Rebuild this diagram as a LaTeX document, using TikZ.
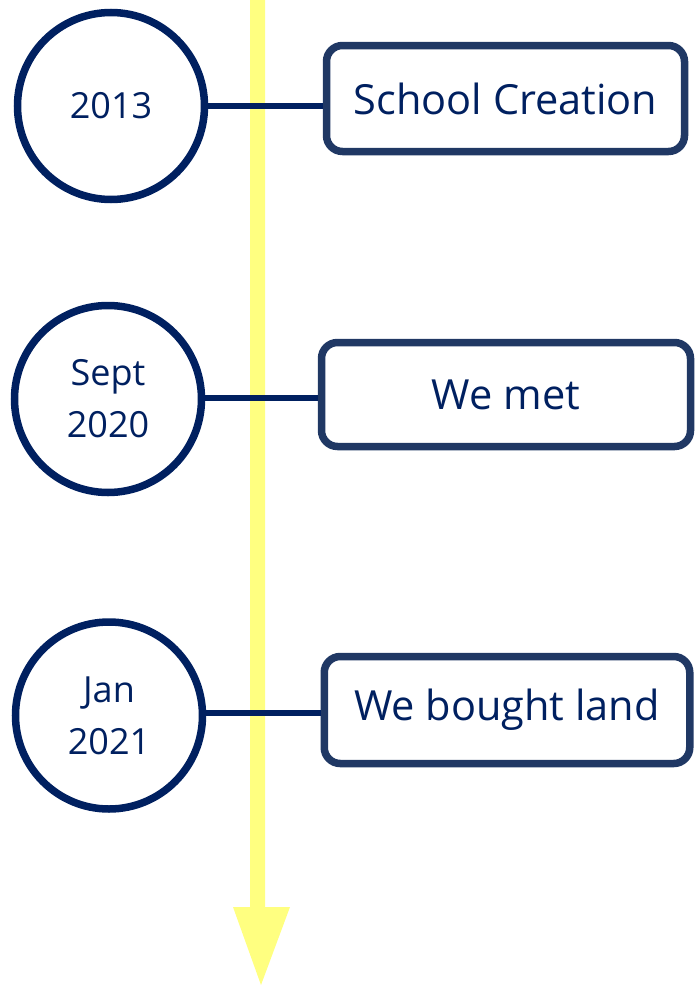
\documentclass[tikz,border=0pt]{standalone}
\usepackage{fontspec}
\setmainfont{Open Sans}
\definecolor{navy}{HTML}{002060}
\definecolor{boxnavy}{HTML}{203864}
\definecolor{lightyellow}{RGB}{255,255,128}
\begin{document}
\begin{tikzpicture}[x=1pt,y=-1pt,
  yearnode/.style={circle,draw=navy,line width=7.5pt,fill=white,minimum size=187pt,inner sep=0pt,
    text=navy,font=\fontsize{36}{52}\selectfont,align=center},
  eventbox/.style={rectangle,rounded corners=16pt,draw=boxnavy,line width=7.5pt,fill=white,
    inner sep=0pt,text=navy,font=\fontsize{41.5}{50}\selectfont},
  link/.style={draw=navy,line width=6.5pt}]
\useasboundingbox (0,0) rectangle (697,985);
% yellow timeline arrow
\fill[lightyellow] (250,0) -- (265,0) -- (265,907) -- (290,907) -- (261,985) -- (233,907) -- (250,907) -- cycle;
% year circles
\node[yearnode] (y1) at (111,106) {2013};
\node[yearnode] (y2) at (108,399) {Sept\\2020};
\node[yearnode] (y3) at (109,715.5) {Jan\\2021};
% event boxes
\node[eventbox,minimum width=358pt,minimum height=106pt] (e1) at (505.5,98.5) {School Creation};
\node[eventbox,minimum width=369pt,minimum height=104pt] (e2) at (506,394.5) {\raisebox{-3pt}{We met}};
\node[eventbox,minimum width=365.5pt,minimum height=107pt] (e3) at (507,710) {\raisebox{-3pt}{We bought land}};
% connectors
\draw[link] (y1.east |- 0,106) -- (e1.west |- 0,106);
\draw[link] (y2.east |- 0,398) -- (e2.west |- 0,398);
\draw[link] (y3.east |- 0,713) -- (e3.west |- 0,713);
\end{tikzpicture}
\end{document}
